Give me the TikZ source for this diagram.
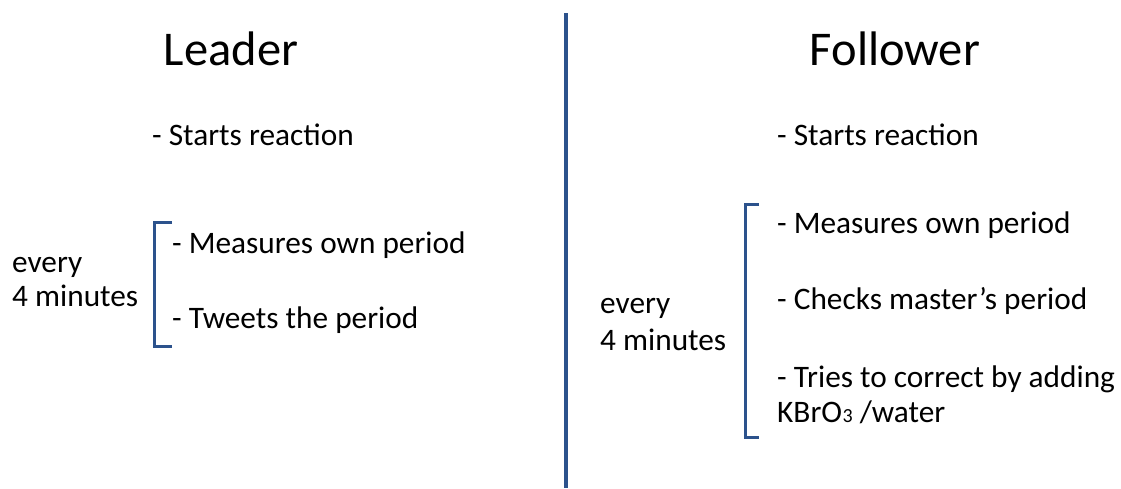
\documentclass[tikz,border=0pt]{standalone}
\usepackage{fontspec}
\setmainfont{Carlito}
\definecolor{barblue}{RGB}{44,82,140}
\begin{document}
\begin{tikzpicture}[x=1pt,y=-1pt,
  title/.style={inner sep=0pt,anchor=base,font=\fontsize{48.5}{52}\selectfont},
  item/.style={inner sep=0pt,anchor=base west,font=\fontsize{31.3}{36}\selectfont},
  bar/.style={draw=barblue,line width=3pt},
  divider/.style={draw=barblue,line width=4pt}]
\useasboundingbox (0,0) rectangle (1121,488);
% divider
\coordinate (dtop) at (566,13);
\coordinate (dbot) at (566,488);
\draw[divider] (dtop) -- (dbot);
% titles
\node[title] (leader) at (231,65) {Leader};
\node[title] (follower) at (895,65) {Follower};
% leader side
\node[item] (lstart) at (152,145) {- Starts reaction};
\node[item] (lmeas) at (172,253) {- Measures own period};
\node[item] (ltweet) at (172,328) {- Tweets the period};
\node[item] (levery) at (12,272) {every};
\node[item] (lmin) at (12,306) {4 minutes};
\coordinate (lb1) at (172,222);
\coordinate (lb2) at (154,222);
\coordinate (lb3) at (154,346);
\coordinate (lb4) at (172,346);
\draw[bar] (lb1) -- (lb2) -- (lb3) -- (lb4);
% follower side
\node[item] (fstart) at (777,145) {- Starts reaction};
\node[item] (fmeas) at (777,233) {- Measures own period};
\node[item] (fcheck) at (777,309) {- Checks master’s period};
\node[item] (ftry) at (777,387) {- Tries to correct by adding};
\node[item] (fkbr) at (777,422) {KBrO\kern0.5pt{\fontsize{20}{22}\selectfont 3} /water};
\node[item] (fevery) at (600,313) {every};
\node[item] (fmin) at (600,350) {4 minutes};
\coordinate (fb1) at (759,204);
\coordinate (fb2) at (745,204);
\coordinate (fb3) at (745,437);
\coordinate (fb4) at (759,437);
\draw[bar] (fb1) -- (fb2) -- (fb3) -- (fb4);
\end{tikzpicture}
\end{document}
